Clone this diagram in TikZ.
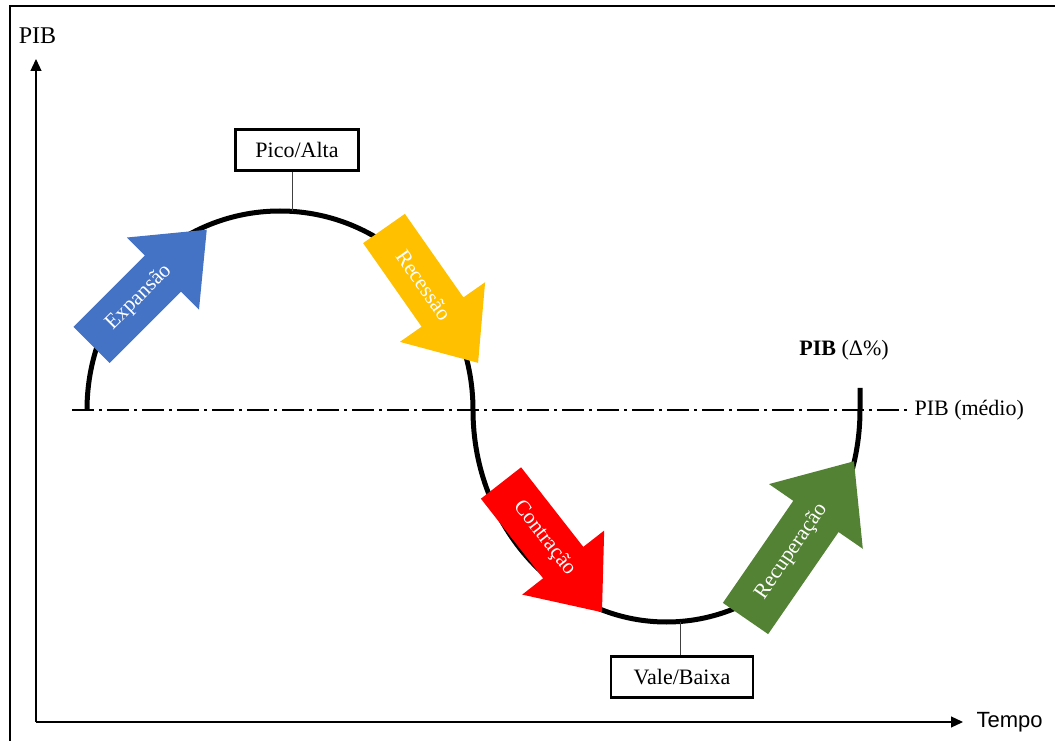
\documentclass[tikz,border=0pt]{standalone}
\usepackage{fontspec}
\setmainfont{Liberation Serif}
\setsansfont{Liberation Sans}
\usetikzlibrary{arrows.meta,positioning}

\definecolor{expblue}{HTML}{4472C4}
\definecolor{recyellow}{HTML}{FFC000}
\definecolor{conred}{HTML}{FF0000}
\definecolor{recgreen}{HTML}{548235}

\begin{document}
\begin{tikzpicture}[
  x=1pt, y=1pt,
  font=\fontsize{22}{26}\selectfont,
  tag/.style={draw=black, line width=2.2pt, minimum width=123pt, minimum height=41pt, inner sep=0pt},
  axis/.style={draw=black, line width=1.2pt, -{Triangle[length=12pt,width=11pt]}},
  wave/.style={draw=black, line width=5pt},
  mean/.style={draw=black, line width=1.8pt, dash pattern=on 22pt off 5pt on 3pt off 5pt},
  leader/.style={draw=black!75, line width=1pt},
  phase/.style={text=white, font=\fontsize{21.5}{24}\selectfont}
]
\useasboundingbox (0,0) rectangle (1055,740);
% frame
\draw[line width=1.5pt] (10,-10) -- (10,734) -- (1070,734);

% axes
\coordinate (origin) at (36,18);
\coordinate (ytip) at (36,681);
\coordinate (xtip) at (963,18);
\draw[axis] (origin) -- (ytip);
\draw[axis] (origin) -- (xtip);
\node (pibaxis) at (37.5,704) {\fontsize{24}{28}\selectfont PIB};
\node[right=10pt of xtip, font=\sffamily\fontsize{22}{26}\selectfont] (tempo) {Tempo};

% average line
\coordinate (mstart) at (72,330);
\coordinate (mend) at (908,330);
\draw[mean] (mstart) -- (mend);
\node[right=3pt of mend] (medio) {PIB (médio)};
\node (pibvar) at (844,390) {\textbf{PIB} (Δ\%)};

% cycle
\draw[wave] (87,330) arc[start angle=180, end angle=0, x radius=193, y radius=199]
  arc[start angle=180, end angle=360, x radius=193.5, y radius=212] -- ++(0,22);

\coordinate (peak) at (292,529);
\coordinate (trough) at (680,118);
\node[tag] (pico) at (297,590) {Pico/Alta};
\node[tag, minimum width=142pt] (vale) at (682,63) {Vale/Baixa};
\draw[leader] (peak |- pico.south) -- (peak);
\draw[leader] (trough |- vale.north) -- (trough);

% phases
\begin{scope}[shift={(91.5,395)}, rotate=45]
  \fill[expblue] (0,-25.5) -- (101,-25.5) -- (101,-51) -- (163,0) -- (101,51) -- (101,25.5) -- (0,25.5) -- cycle;
  \node[phase, rotate=45] (expansao) at (67,0) {Expansão};
\end{scope}
\begin{scope}[shift={(384,511.5)}, rotate=-55]
  \fill[recyellow] (0,-25.5) -- (102,-25.5) -- (102,-52) -- (164,0) -- (102,52) -- (102,25.5) -- (0,25.5) -- cycle;
  \node[phase, rotate=-55] (recessao) at (69,0) {Recessão};
\end{scope}
\begin{scope}[shift={(501,257)}, rotate=-52]
  \fill[conred] (0,-25.5) -- (101,-25.5) -- (101,-52) -- (164,0) -- (101,52) -- (101,25.5) -- (0,25.5) -- cycle;
  \node[phase, rotate=-52] (contracao) at (70,0) {Contração};
\end{scope}
\begin{scope}[shift={(745.5,121.5)}, rotate=55.4]
  \fill[recgreen] (0,-27.5) -- (124,-27.5) -- (124,-57) -- (191,0) -- (124,57) -- (124,27.5) -- (0,27.5) -- cycle;
  \node[phase, rotate=55.4] (recuperacao) at (81,0) {Recuperação};
\end{scope}
\end{tikzpicture}
\end{document}
